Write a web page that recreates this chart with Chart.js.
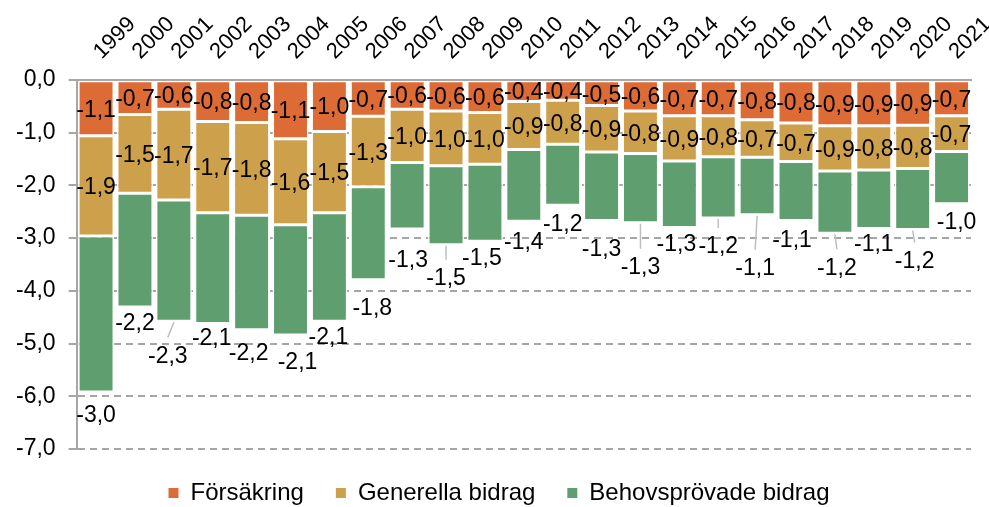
<!DOCTYPE html>
<html>
<head>
<meta charset="utf-8">
<script src="https://cdn.jsdelivr.net/npm/chart.js@4.4.0/dist/chart.umd.min.js"></script>
<style>
  html, body { margin: 0; padding: 0; background: #fff; overflow: hidden; }
  #wrap { width: 989px; height: 507px; }
</style>
</head>
<body>
<div id="wrap"><canvas id="chart"></canvas></div>
<script>
// Chart data (billions)
const years = ['1999', '2000', '2001', '2002', '2003', '2004', '2005', '2006', '2007', '2008', '2009', '2010',
  '2011', '2012', '2013', '2014', '2015', '2016', '2017', '2018', '2019', '2020', '2021'];
const forsakring = [-1.06, -0.66, -0.56, -0.79, -0.81, -1.12, -0.98, -0.69, -0.56, -0.59, -0.62, -0.41,
  -0.39, -0.49, -0.59, -0.68, -0.68, -0.76, -0.82, -0.87, -0.87, -0.86, -0.68];
const generella = [-1.90, -1.49, -1.72, -1.73, -1.76, -1.63, -1.54, -1.34, -1.01, -1.04, -0.98, -0.91,
  -0.83, -0.88, -0.81, -0.86, -0.78, -0.71, -0.73, -0.86, -0.84, -0.82, -0.68];
const behovsprovade = [-2.96, -2.16, -2.30, -2.10, -2.17, -2.09, -2.06, -1.76, -1.26, -1.50, -1.46, -1.36,
  -1.16, -1.30, -1.31, -1.26, -1.16, -1.09, -1.12, -1.18, -1.11, -1.16, -0.99];

// Label nudges for the green series: [dx, dy] from the bar end, and whether a leader line is drawn
const greenLabelShift = [[0, 24], [0, 17], [-6, 35], [-1, 15], [-3, 24], [7, 28], [-1, 16], [4, 29],
  [1, 32], [0, 34], [-3, 17], [0, 22], [0, 19], [0, 29], [0, 45], [-3, 17], [0, 29], [-2, 54],
  [-4, 20], [2, 35], [0, 16], [2, 32], [5, 19]];
const greenLeader = [false, false, true, false, false, false, false, false, false, true, false, false,
  false, false, true, false, true, true, false, true, false, true, false];

const FONT = '"Liberation Sans", Arial, sans-serif';
const GRID = '#a6a6a6';

function fmt(v) {
  const s = Math.abs(v).toFixed(1).replace('.', ',');
  return (v < 0 && s !== '0,0' ? '-' : '') + s;
}

const valueLabels = {
  id: 'valueLabels',
  afterDatasetsDraw(chart) {
    const ctx = chart.ctx;
    ctx.save();
    ctx.font = '23px ' + FONT;
    ctx.fillStyle = '#000';
    ctx.textAlign = 'center';
    ctx.textBaseline = 'middle';
    chart.data.datasets.forEach((ds, di) => {
      chart.getDatasetMeta(di).data.forEach((bar, i) => {
        const text = fmt(ds.data[i]);
        if (di < 2) {
          ctx.fillText(text, bar.x, (bar.y + bar.base) / 2 + 2);
          return;
        }
        const [dx, dy] = greenLabelShift[i];
        const lx = bar.x + dx;
        const ly = bar.y + dy;
        if (greenLeader[i]) {
          ctx.strokeStyle = '#bfbfbf';
          ctx.lineWidth = 1.5;
          ctx.beginPath();
          ctx.moveTo(bar.x, bar.y + 1);
          ctx.lineTo(lx, ly - 19);
          ctx.stroke();
        }
        ctx.fillText(text, lx, ly);
      });
    });
    ctx.restore();
  }
};

// legend sits a little right of the canvas centre in the original
const legendShift = {
  id: 'legendShift',
  afterLayout(chart) {
    chart.legend.left += 12;
    chart.legend.right += 12;
  }
};

const colors = ['#DD6B36', '#CDA04C', '#5E9E6F'];

new Chart(document.getElementById('chart'), {
  type: 'bar',
  data: {
    labels: years,
    datasets: [
      { label: 'Försäkring', data: forsakring, backgroundColor: colors[0] },
      { label: 'Generella bidrag', data: generella, backgroundColor: colors[1] },
      { label: 'Behovsprövade bidrag', data: behovsprovade, backgroundColor: colors[2] }
    ].map(d => ({ ...d, borderColor: '#fff', borderWidth: 1.5, borderSkipped: false,
      barPercentage: 0.924, categoryPercentage: 1 }))
  },
  options: {
    responsive: true,
    maintainAspectRatio: false,
    animation: false,
    layout: { padding: { left: 3, right: 18, top: -3.5, bottom: 0 } },
    plugins: {
      tooltip: { enabled: false },
      legend: {
        position: 'bottom',
        maxHeight: 58,
        labels: {
          color: '#000',
          font: { size: 24, family: FONT },
          boxWidth: 10,
          boxHeight: 10,
          padding: 32,
          generateLabels: chart => chart.data.datasets.map((ds, i) => ({
            text: ds.label, fillStyle: colors[i], strokeStyle: colors[i], lineWidth: 0, datasetIndex: i
          }))
        }
      }
    },
    scales: {
      x: {
        stacked: true,
        position: 'top',
        grid: { display: false, drawTicks: false },
        border: { display: true, color: GRID, width: 2 },
        ticks: {
          color: '#000', font: { size: 22, family: FONT },
          minRotation: 45, maxRotation: 45, autoSkip: false, padding: 15, labelOffset: 20
        },
        afterFit(scale) {
          scale.paddingLeft = 0;
          scale.paddingRight = 0;
        }
      },
      y: {
        stacked: true,
        min: -7,
        max: 0,
        ticks: {
          stepSize: 1, color: '#000', font: { size: 23, family: FONT }, padding: 13,
          callback: v => fmt(v)
        },
        grid: { color: GRID, lineWidth: 2, tickLength: 8 },
        border: { display: true, color: GRID, width: 2, dash: [7, 5] }
      }
    }
  },
  plugins: [valueLabels, legendShift]
});
</script>
</body>
</html>
